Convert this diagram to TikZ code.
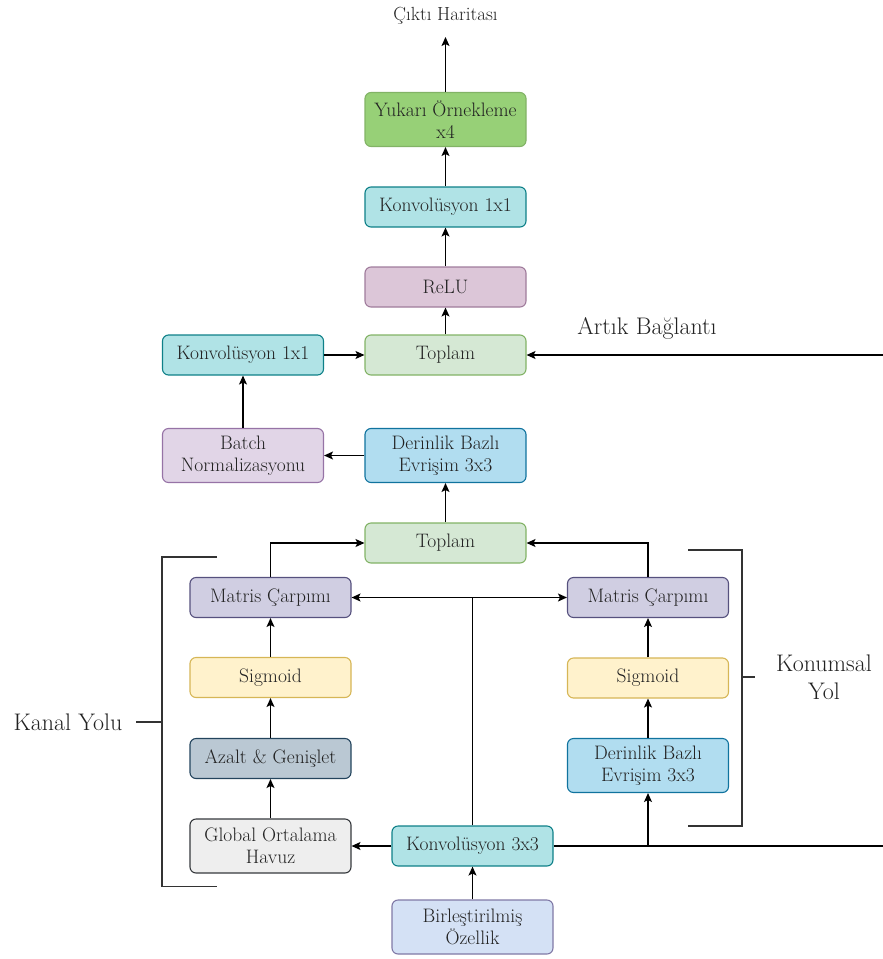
\documentclass[tikz,border=0pt]{standalone}
\usepackage{fontspec}
\usetikzlibrary{arrows.meta}

\definecolor{tealF}{HTML}{B0E3E6}\definecolor{tealS}{HTML}{0E8088}
\definecolor{greenF}{HTML}{97D077}\definecolor{greenS}{HTML}{82B366}
\definecolor{lgreenF}{HTML}{D5E8D4}
\definecolor{mauveF}{HTML}{DCC6D8}\definecolor{mauveS}{HTML}{A07C9C}
\definecolor{lilacF}{HTML}{E1D5E7}\definecolor{lilacS}{HTML}{9673A6}
\definecolor{blueF}{HTML}{B1DDF0}\definecolor{blueS}{HTML}{10739E}
\definecolor{slateF}{HTML}{D0CEE2}\definecolor{slateS}{HTML}{56517E}
\definecolor{yellowF}{HTML}{FFF2CC}\definecolor{yellowS}{HTML}{D6B656}
\definecolor{steelF}{HTML}{BAC8D3}\definecolor{steelS}{HTML}{23445D}
\definecolor{greyF}{HTML}{EEEEEE}\definecolor{greyS}{HTML}{36393D}
\definecolor{paleF}{HTML}{D4E1F5}\definecolor{paleS}{HTML}{8079A6}
\definecolor{bracket}{HTML}{333333}
\definecolor{ink}{HTML}{222222}

\tikzset{
  box/.style={draw, rounded corners=6pt, line width=1.1pt, minimum width=161pt,
    minimum height=40pt, align=center, inner sep=2pt,
    font=\fontsize{19.5}{22}\selectfont, text=ink},
  tall/.style={minimum height=54pt},
  arr/.style={line width=1.3pt, -{Stealth[length=9pt,width=8pt,inset=2pt]}},
  plain/.style={line width=1.3pt},
  brk/.style={line width=1.3pt, draw=bracket},
  lbl/.style={font=\fontsize{24}{28}\selectfont, align=center, text=ink},
}

\begin{document}
\begin{tikzpicture}[x=1pt,y=-1pt]
\path[use as bounding box] (0,0) rectangle (883,959);

% main column
\node[box, tall, fill=greenF, draw=greenS] (yuk) at (445.5,119.5) {Yukarı Örnekleme\\x4};
\node[box, fill=tealF, draw=tealS] (convtop) at (445.5,207) {Konvolüsyon 1x1};
\node[box, fill=mauveF, draw=mauveS] (relu) at (445.5,287) {ReLU};
\node[box, fill=lgreenF, draw=greenS] (sum1) at (445.5,355) {Toplam};
\node[box, tall, fill=blueF, draw=blueS] (dw1) at (445.5,455.5) {Derinlik Bazlı\\Evrişim 3x3};
\node[box, fill=tealF, draw=tealS] (convl) at (243,355) {Konvolüsyon 1x1};
\node[box, tall, fill=lilacF, draw=lilacS] (bn) at (243,455.5) {Batch\\Normalizasyonu};
\node[box, fill=lgreenF, draw=greenS] (sum2) at (445.5,543) {Toplam};

% channel path
\node[box, fill=slateF, draw=slateS] (matl) at (270.5,597.5) {Matris Çarpımı};
\node[box, fill=yellowF, draw=yellowS] (sigl) at (270.5,677.5) {Sigmoid};
\node[box, fill=steelF, draw=steelS] (azalt) at (270.5,758.5) {Azalt \& Genişlet};
\node[box, tall, fill=greyF, draw=greyS] (gap) at (270.5,846) {Global Ortalama\\Havuz};

% spatial path
\node[box, fill=slateF, draw=slateS] (matr) at (648,597.5) {Matris Çarpımı};
\node[box, fill=yellowF, draw=yellowS] (sigr) at (648,678) {Sigmoid};
\node[box, tall, fill=blueF, draw=blueS] (dwr) at (648,765.5) {Derinlik Bazlı\\Evrişim 3x3};

% input
\node[box, fill=tealF, draw=tealS] (conv3) at (472.5,846) {Konvolüsyon 3x3};
\node[box, tall, fill=paleF, draw=paleS] (birl) at (472.5,927) {Birleştirilmiş\\Özellik};

% labels
\node[font=\fontsize{19}{22}\selectfont, text=ink] (out) at (445.5,16) {Çıktı Haritası};
\node[lbl] (res) at (647,328) {Artık Bağlantı};
\node[lbl] (kanal) at (68,722) {Kanal Yolu};
\node[lbl] (konum) at (824,677) {Konumsal\\Yol};

\coordinate (outtip) at (445.5,37);
\coordinate (resin) at (883,355);
\coordinate (feedout) at (883,846);

% connectors
\draw[arr] (yuk.north) -- (outtip);
\draw[arr] (convtop) -- (yuk);
\draw[arr] (relu) -- (convtop);
\draw[arr] (sum1) -- (relu);
\draw[arr] (convl) -- (sum1);
\draw[arr] (resin) -- (sum1.east);
\draw[arr] (bn) -- (convl);
\draw[arr] (dw1) -- (bn);
\draw[arr] (sum2) -- (dw1);
\draw[arr] (matl.north) |- (sum2.west);
\draw[arr] (matr.north) |- (sum2.east);
\draw[arr] (conv3.north) |- (matl.east);
\draw[arr] (conv3.north) |- (matr.west);
\draw[arr] (sigl) -- (matl);
\draw[arr] (azalt) -- (sigl);
\draw[arr] (gap) -- (azalt);
\draw[arr] (conv3) -- (gap);
\draw[arr] (sigr) -- (matr);
\draw[arr] (dwr) -- (sigr);
\draw[plain] (conv3.east) -- (feedout);
\draw[arr] (conv3.east -| dwr.south) -- (dwr.south);
\draw[arr] (birl) -- (conv3);

% brackets
\draw[brk] (217,557) -- (162,557) -- (162,886.5) -- (217,886.5);
\draw[brk] (136,722) -- (162,722);
\draw[brk] (688,550) -- (742,550) -- (742,826) -- (688,826);
\draw[brk] (742,677) -- (755,677);
\end{tikzpicture}
\end{document}
